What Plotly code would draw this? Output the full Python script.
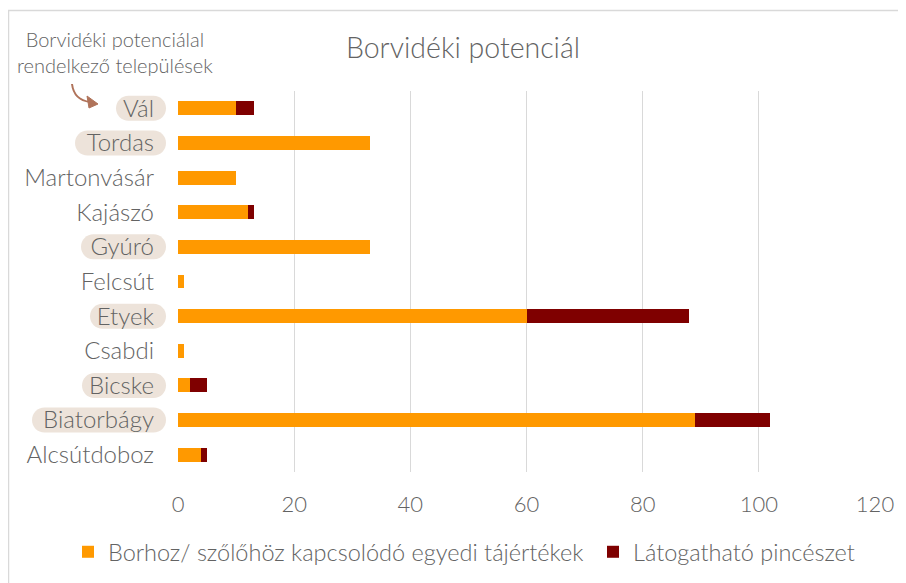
import plotly.graph_objects as go

# ---- data ----
towns = ["Vál", "Tordas", "Martonvásár", "Kajászó", "Gyúró", "Felcsút",
         "Etyek", "Csabdi", "Bicske", "Biatorbágy", "Alcsútdoboz"]
landscape_values = [10, 33, 10, 12, 33, 1, 60, 1, 2, 89, 4]
wineries = [3, 0, 0, 1, 0, 0, 28, 0, 3, 13, 1]
wine_region = [True, True, False, False, True, False, True, False, True, True, False]
x_ticks = [0, 20, 40, 60, 80, 100, 120]

series_names = ["Borhoz/ szőlőhöz kapcsolódó egyedi tájértékek", "Látogatható pincészet"]
title_text = "Borvidéki potenciál"
note_text = "Borvidéki potenciálal<br>rendelkező települések"

# ---- style ----
W, H = 906, 583
OFF = 8  # page body offset
ML, MR, MT, MB = 178 - OFF, 39, 91 - OFF, 119
TXT = "#636363"
FONT = "Lato, 'Open Sans', sans-serif"
ORANGE = "#FF9900"
DARK = "#7F0000"
PILL = "#EDE3DA"
# pill left edge (pixels relative to plot's left edge) for highlighted labels
pill_left = {"Vál": -62, "Tordas": -103, "Gyúró": -97, "Etyek": -88,
             "Bicske": -96, "Biatorbágy": -146}
pill_right = -12

fig = go.Figure()
fig.add_trace(go.Bar(y=towns, x=landscape_values, orientation="h", name=series_names[0],
                     marker=dict(color=ORANGE, line=dict(width=0)), legend="legend"))
fig.add_trace(go.Bar(y=towns, x=wineries, orientation="h", name=series_names[1],
                     marker=dict(color=DARK, line=dict(width=0)), legend="legend2"))

shapes = []
r = 12.5
for t, hl in zip(towns, wine_region):
    if not hl:
        continue
    x0, x1 = pill_left[t], pill_right
    path = (f"M {x0+r},{r} L {x1-r},{r} C {x1-r+7},{r} {x1},{7} {x1},0 "
            f"C {x1},{-7} {x1-r+7},{-r} {x1-r},{-r} L {x0+r},{-r} "
            f"C {x0+r-7},{-r} {x0},{-7} {x0},0 C {x0},{7} {x0+r-7},{r} {x0+r},{r} Z")
    shapes.append(dict(type="path", xref="paper", yref="y", xsizemode="pixel",
                       ysizemode="pixel", xanchor=0, yanchor=t, path=path,
                       fillcolor=PILL, line=dict(width=0), layer="below"))

# curved arrow near the note
shapes.append(dict(type="path", xref="paper", yref="paper", xsizemode="pixel",
                   ysizemode="pixel", xanchor=0, yanchor=1,
                   path="M -106,7 Q -104,-9 -88,-11",
                   line=dict(color="#B0735A", width=2), fillcolor="rgba(0,0,0,0)"))
shapes.append(dict(type="path", xref="paper", yref="paper", xsizemode="pixel",
                   ysizemode="pixel", xanchor=0, yanchor=1,
                   path="M -80,-13 L -91,-5 L -89,-17 Z",
                   line=dict(color="#B0735A", width=1), fillcolor="#B0735A"))

# outer frame
pw, ph = W - ML - MR, H - MT - MB
shapes.append(dict(type="rect", xref="paper", yref="paper",
                   x0=(0.5 - ML) / pw, x1=(W + 20 - ML) / pw,
                   y0=(H - MB - (H + 20)) / ph, y1=(H - MB - 2.5) / ph,
                   line=dict(color="#D9D9D9", width=1.5), fillcolor="rgba(0,0,0,0)",
                   layer="below"))

leg_y = -(544 - (H - MB)) / ph
fig.update_layout(
    width=W, height=H,
    margin=dict(l=ML, r=MR, t=MT, b=MB, autoexpand=False),
    barmode="stack", bargap=0.6,
    plot_bgcolor="white", paper_bgcolor="white",
    font=dict(family=FONT, color=TXT, weight=300),
    title=dict(text=title_text, x=455 / W, xanchor="center", y=1 - 40 / H,
               yanchor="middle", font=dict(size=28.5, color=TXT, family=FONT, weight=300)),
    xaxis=dict(range=[0, 120], tickvals=x_ticks, showgrid=True, gridcolor="#D9D9D9",
               gridwidth=1, zeroline=False, showline=False, ticks="",
               tickfont=dict(size=22, color=TXT, weight=300), fixedrange=True,
               ticklabelstandoff=17),
    yaxis=dict(autorange="reversed", showgrid=False, zeroline=False, showline=False,
               ticks="", ticklabelstandoff=23,
               tickfont=dict(size=24, color=TXT, weight=300)),
    legend=dict(orientation="h", x=(60 - ML) / pw, xanchor="left",
                y=leg_y, yanchor="middle", itemwidth=30,
                font=dict(size=23.5, color=TXT, weight=300)),
    legend2=dict(orientation="h", x=(585 - ML) / pw, xanchor="left",
                 y=leg_y, yanchor="middle", itemwidth=30,
                 font=dict(size=23.5, color=TXT, weight=300)),
    shapes=shapes,
    annotations=[dict(text=note_text, xref="paper", yref="paper",
                      x=(107 - ML) / pw, y=(H - MB - 44) / ph, xanchor="center",
                      yanchor="middle", showarrow=False, align="center",
                      font=dict(size=20, color=TXT, family=FONT, weight=300))],
    showlegend=True,
)

fig.write_html("out.html")
